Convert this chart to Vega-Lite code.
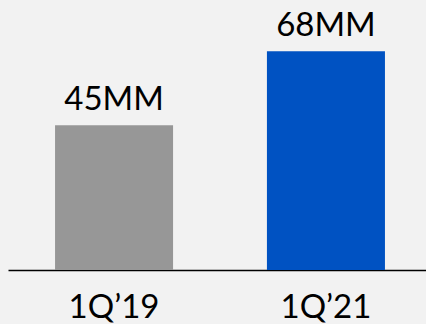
{
  "$schema": "https://vega.github.io/schema/vega-lite/v6.json",
  "width": 424,
  "height": 270,
  "autosize": {"type": "none"},
  "padding": {"left": 8, "top": 0, "right": 0, "bottom": 54},
  "background": "#F2F2F2",
  "config": {"view": {"stroke": null}, "font": "Lato"},
  "data": {"values": [
    {"period": "1Q’19", "value": 45, "label": "45MM"},
    {"period": "1Q’21", "value": 68, "label": "68MM"}
  ]},
  "encoding": {
    "x": {"field": "period", "type": "nominal", "sort": null,
      "scale": {"paddingInner": 0.443, "paddingOuter": 0.222},
      "axis": {"title": null, "labelAngle": 0, "ticks": false, "domainColor": "#000000", "domainWidth": 1.5,
        "labelFontSize": 33, "labelColor": "#000000", "labelBaseline": "alphabetic", "labelPadding": 47, "labelFont": "Lato"}},
    "y": {"field": "value", "type": "quantitative", "scale": {"domain": [0, 83.9], "nice": false}, "axis": null}
  },
  "layer": [
    {"mark": {"type": "bar"},
     "encoding": {"color": {"field": "period", "type": "nominal", "scale": {"domain": ["1Q’19", "1Q’21"], "range": ["#979797", "#0052C2"]}, "legend": null}}},
    {"mark": {"type": "text", "baseline": "alphabetic", "dy": -15, "fontSize": 33, "color": "#000000", "font": "Lato"},
     "encoding": {"text": {"field": "label"}}}
  ]
}
